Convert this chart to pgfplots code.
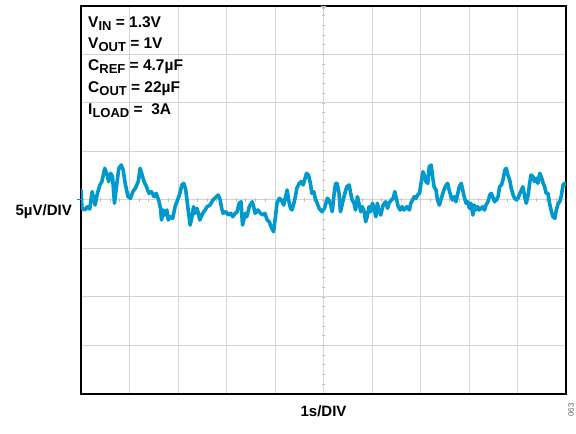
\documentclass[border=0pt]{standalone}
\usepackage{pgfplots}
\pgfplotsset{compat=1.18}
\usepackage{fontspec}
\setmainfont{Liberation Sans}

\definecolor{trace}{RGB}{0,153,206}
\definecolor{gridgray}{RGB}{212,212,212}

% subscript used in the condition list
\newcommand{\sub}[1]{\raisebox{-3bp}{\fontsize{13bp}{13bp}\selectfont #1}}

\begin{document}
\begin{tikzpicture}
\begin{axis}[
  at={(0,0)}, anchor=south west,
  scale only axis,
  width=485bp, height=388bp,
  xmin=0, xmax=10, ymin=-20, ymax=20,
  xtick={0,1,...,10}, ytick={-20,-15,...,20},
  xticklabels={}, yticklabels={},
  major tick length=0pt,
  grid=major,
  major grid style={gridgray, line width=1bp},
  axis line style={black, line width=1.3bp},
  clip=true,
]
% small division marks along the two centre lines
\pgfplotsinvokeforeach{0.2,0.4,...,9.9}{
  \draw[gridgray!80!gray, line width=0.8bp] (axis cs:#1,-0.22) -- (axis cs:#1,0.22);
}
\pgfplotsinvokeforeach{-19,-18,...,19}{
  \draw[gridgray!80!gray, line width=0.8bp] (axis cs:4.96,#1) -- (axis cs:5.04,#1);
}
% noise trace: time (s) vs. output noise (uV)
\addplot[trace, line width=3.6bp, line join=round, line cap=round] coordinates {
(0.00,1.03) (0.02,-0.82) (0.08,-1.03) (0.13,-0.69) (0.18,-0.93) (0.23,0.86)
(0.27,0.00) (0.29,-0.52) (0.34,0.72) (0.39,1.55) (0.43,1.89) (0.49,3.27)
(0.54,2.58) (0.57,1.89) (0.61,2.75) (0.65,2.40) (0.69,-0.34) (0.74,1.72)
(0.78,3.27) (0.83,3.61) (0.87,3.09) (0.91,1.72) (0.97,0.34) (1.02,0.18)
(1.07,0.86) (1.12,1.21) (1.18,1.89) (1.22,3.27) (1.26,2.58) (1.30,1.89)
(1.35,1.37) (1.40,0.69) (1.45,0.86) (1.51,0.34) (1.55,0.69) (1.60,0.00)
(1.64,-0.86) (1.66,-2.06) (1.70,-1.03) (1.73,-1.55) (1.77,-1.03) (1.80,-2.06)
(1.84,-1.72) (1.89,-1.89) (1.94,-0.69) (1.99,0.00) (2.03,0.52) (2.08,1.55)
(2.12,1.72) (2.16,1.03) (2.21,-1.03) (2.25,-2.58) (2.29,-1.72) (2.32,-0.69)
(2.35,-1.37) (2.39,-0.86) (2.42,-1.37) (2.45,-2.06) (2.51,-1.37) (2.56,-1.03)
(2.60,-0.69) (2.66,-0.52) (2.72,0.00) (2.76,0.18) (2.83,0.52) (2.87,0.00)
(2.90,-0.86) (2.93,-1.37) (2.99,-1.21) (3.04,-1.55) (3.09,-1.37) (3.13,-1.72)
(3.18,-1.37) (3.22,-1.21) (3.26,-0.34) (3.30,-0.18) (3.33,-2.58) (3.39,-1.37)
(3.42,-1.72) (3.47,-0.69) (3.53,-0.18) (3.56,-0.69) (3.59,-1.37) (3.65,-1.03)
(3.70,-1.37) (3.75,-1.55) (3.79,-1.37) (3.84,-2.06) (3.88,-2.24) (3.92,-2.75)
(3.97,-3.27) (4.01,-1.72) (4.04,-0.34) (4.09,0.18) (4.13,0.00) (4.18,-0.52)
(4.21,0.18) (4.25,1.03) (4.28,0.00) (4.32,-0.86) (4.35,-1.03) (4.39,-0.34)
(4.42,0.34) (4.45,1.21) (4.50,1.72) (4.54,1.89) (4.58,1.55) (4.61,2.06)
(4.65,2.75) (4.69,2.58) (4.73,1.72) (4.76,0.69) (4.80,0.86) (4.83,0.18)
(4.87,-0.34) (4.91,-0.86) (4.97,-1.21) (5.02,-0.86) (5.08,0.18) (5.11,0.00)
(5.15,-0.52) (5.18,-1.21) (5.22,0.69) (5.25,1.72) (5.28,1.72) (5.32,0.69)
(5.35,-1.21) (5.39,-0.34) (5.44,0.69) (5.48,1.37) (5.53,1.55) (5.56,0.69)
(5.59,0.00) (5.63,-0.34) (5.66,-1.03) (5.70,0.34) (5.73,-0.34) (5.77,-1.21)
(5.80,-0.69) (5.84,-1.21) (5.87,-2.24) (5.90,-1.72) (5.94,-0.69) (5.97,-1.21)
(6.01,-0.34) (6.04,-0.86) (6.08,-1.72) (6.11,-0.34) (6.14,-1.03) (6.18,-1.55)
(6.23,-0.52) (6.28,-0.18) (6.32,-0.86) (6.35,-0.34) (6.40,0.00) (6.44,0.18)
(6.47,0.86) (6.51,0.00) (6.54,-0.69) (6.58,-1.03) (6.62,-0.69) (6.66,-1.03)
(6.72,-0.69) (6.77,-1.03) (6.80,-0.34) (6.84,0.00) (6.87,0.34) (6.91,0.18)
(6.94,0.52) (6.98,0.69) (7.01,1.72) (7.05,2.92) (7.08,2.58) (7.11,1.89)
(7.15,1.72) (7.18,3.43) (7.22,3.61) (7.25,2.40) (7.28,1.37) (7.32,1.03)
(7.35,0.00) (7.39,-0.52) (7.42,0.00) (7.46,0.69) (7.51,1.37) (7.56,1.72)
(7.59,1.03) (7.63,0.34) (7.66,0.00) (7.70,0.34) (7.73,-0.18) (7.77,0.69)
(7.80,1.37) (7.84,1.72) (7.87,1.03) (7.90,0.34) (7.94,-0.34) (7.97,-0.18)
(8.01,-0.86) (8.04,-0.34) (8.08,-1.55) (8.11,-0.52) (8.14,-1.03) (8.18,-0.69)
(8.21,-1.03) (8.25,-0.86) (8.28,-0.69) (8.32,-1.03) (8.35,-0.52) (8.39,-0.18)
(8.43,0.52) (8.46,0.69) (8.50,0.18) (8.53,-0.18) (8.56,0.00) (8.60,0.34)
(8.63,1.37) (8.67,1.55) (8.70,2.06) (8.74,3.09) (8.77,3.27) (8.80,2.58)
(8.84,2.06) (8.87,1.21) (8.91,0.52) (8.94,0.18) (8.98,0.00) (9.01,0.18)
(9.05,0.69) (9.08,1.03) (9.11,1.37) (9.15,0.34) (9.18,-0.34) (9.22,0.52)
(9.25,1.72) (9.28,2.58) (9.32,2.40) (9.35,1.89) (9.39,2.24) (9.42,1.72)
(9.46,2.75) (9.49,2.40) (9.53,1.72) (9.56,1.37) (9.59,0.69) (9.63,0.69)
(9.66,-0.34) (9.70,-1.21) (9.73,-1.72) (9.77,-1.89) (9.80,-1.03) (9.84,-0.34)
(9.87,-0.18) (9.90,0.34) (9.94,1.55) (9.97,1.72) (10.00,1.55)
};
\end{axis}

% ground reference marker and trigger marker
\draw[trace, line width=1bp] (-4bp,194bp) -- (1bp,194bp);
\fill[gridgray!70!gray] (239.5bp,388bp) -- (245.5bp,388bp) -- (242.5bp,384bp) -- cycle;

% test conditions
\begin{scope}[every node/.style={anchor=base west, inner sep=0pt,
    font=\fontsize{15.5bp}{15.5bp}\selectfont\bfseries}]
  \node at (7bp,366bp) {V\sub{IN} = 1.3V};
  \node at (7bp,345bp) {V\sub{OUT} = 1V};
  \node at (7bp,323bp) {C\sub{REF} = 4.7µF};
  \node at (7bp,301bp) {C\sub{OUT} = 22µF};
  \node at (7bp,279bp) {I\sub{LOAD} =\ \ 3A};
\end{scope}

% scale labels
\node[anchor=base east, inner sep=0pt, font=\fontsize{15bp}{15bp}\selectfont\bfseries]
  at (-9bp,178bp) {5µV/DIV};
\node[anchor=base, inner sep=0pt, font=\fontsize{15bp}{15bp}\selectfont\bfseries]
  at (242.5bp,-22bp) {1s/DIV};
\node[rotate=90, inner sep=0pt, text=black!60, font=\fontsize{8bp}{8bp}\selectfont]
  at (490bp,-16bp) {063};

\pgfresetboundingbox
\path[use as bounding box] (-81bp,-40bp) rectangle (495bp,394bp);
\end{tikzpicture}
\end{document}
